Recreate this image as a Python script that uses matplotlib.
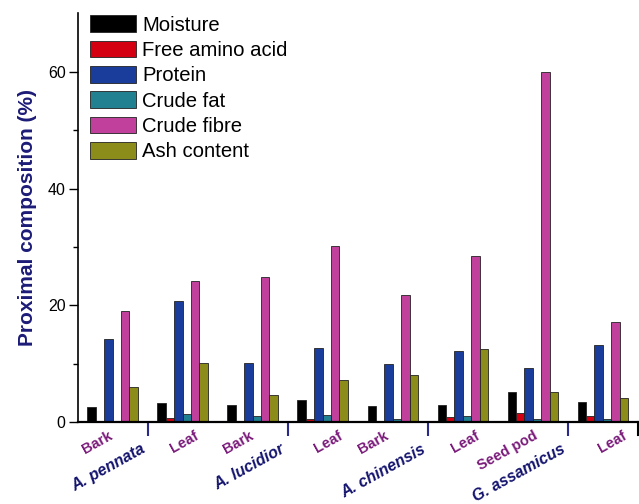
import matplotlib
matplotlib.use('Agg')
import matplotlib.pyplot as plt
import numpy as np

plt.rcParams['font.family'] = ['Liberation Sans', 'DejaVu Sans']

tissues = ['Bark', 'Leaf', 'Bark', 'Leaf', 'Bark', 'Leaf', 'Seed pod', 'Leaf']
species = ['A. pennata', 'A. lucidior', 'A. chinensis', 'G. assamicus']
components = ['Moisture', 'Free amino acid', 'Protein', 'Crude fat', 'Crude fibre', 'Ash content']

moisture = [2.6, 3.3, 2.9, 3.8, 2.7, 2.9, 5.2, 3.5]
free_amino = [0.2, 0.7, 0.2, 0.45, 0.1, 0.9, 1.6, 1.0]
protein = [14.2, 20.7, 10.1, 12.75, 9.95, 12.1, 9.2, 13.2]
crude_fat = [0.2, 1.4, 1.05, 1.2, 0.5, 1.05, 0.6, 0.5]
crude_fibre = [19.1, 24.2, 24.9, 30.2, 21.8, 28.4, 60.0, 17.1]
ash = [6.0, 10.2, 4.6, 7.2, 8.1, 12.5, 5.2, 4.2]

colors = ['#000000', '#d40012', '#1a3c9a', '#218190', '#c0409c', '#8c8c1a']

fig = plt.figure(figsize=(6.39, 5.04), dpi=100)
ax = fig.add_axes([0.1213, 0.1625, 0.8770, 0.8111])

x = np.arange(len(tissues))
width = 0.12
series = [moisture, free_amino, protein, crude_fat, crude_fibre, ash]
for i, (vals, name) in enumerate(zip(series, components)):
    ax.bar(x + (i - 2.5) * width, vals, width, color=colors[i], edgecolor='#222222',
           linewidth=0.6, label=name, zorder=2)

ax.set_xlim(-0.5, 7.5)
ax.set_ylim(0, 70)
ax.set_yticks([0, 20, 40, 60])
ax.set_yticks([10, 30, 50], minor=True)
ax.tick_params(axis='y', which='major', length=6.5, width=1.0, labelsize=11.5, pad=2)
ax.tick_params(axis='y', which='minor', length=3.5, width=1.0)

# separator ticks between species
ax.set_xticks(x)
ax.set_xticklabels([])
ax.tick_params(axis='x', which='major', length=0)
ax.set_xticks([0.5, 2.5, 4.5, 6.5], minor=True)
ax.tick_params(axis='x', which='minor', length=10, width=1.5, color='#2a2a8a', direction='out')
ax.plot([7.5, 7.5], [0, -2.2], color='black', lw=1.5, clip_on=False)

# hand-placed tissue labels (pixel nudges as in the original)
label_dx = [-11, 1, -10, 4, -14, 2, -18, 7]
for xi, t, dx in zip(x, tissues, label_dx):
    ax.annotate(t, xy=(xi, 0), xycoords=('data', 'axes fraction'), xytext=(dx, -5),
                textcoords='offset points', ha='center', va='top', rotation=29,
                fontsize=10.5, fontweight='bold', color='#7a1a7a')

for xs, sp in zip([0.5, 2.5, 4.5, 6.5], species):
    ax.annotate(sp, xy=(xs, 0), xycoords=('data', 'axes fraction'), xytext=(0, -14),
                textcoords='offset points', ha='right', va='top', rotation=29,
                fontsize=11.5, fontweight='bold', fontstyle='italic', color='#14146e')

ax.spines['top'].set_visible(False)
ax.spines['right'].set_visible(False)
ax.spines['left'].set_linewidth(1.2)
ax.spines['bottom'].set_linewidth(1.6)

ax.set_ylabel('Proximal composition (%)', fontsize=15, fontweight='bold', color='#1c1c78', labelpad=8)

leg = ax.legend(loc='upper left', bbox_to_anchor=(0.022, 0.995), frameon=False, fontsize=14.6,
                handlelength=2.27, handleheight=0.9, labelspacing=0.29, handletextpad=0.3,
                borderpad=0, borderaxespad=0)

fig.savefig('out.png', dpi=100)
